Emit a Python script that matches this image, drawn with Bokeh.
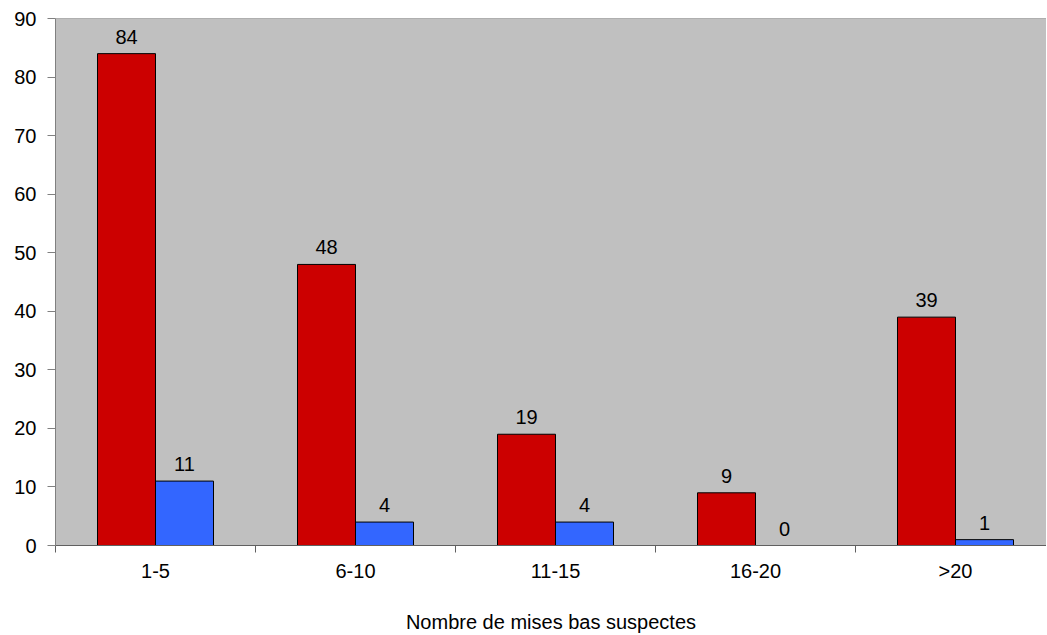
from bokeh.plotting import figure
from bokeh.models import ColumnDataSource, FixedTicker, Range1d, LabelSet, Span
from bokeh.core.properties import value
from bokeh.embed import file_html
from bokeh.resources import INLINE

categories = ["1-5", "6-10", "11-15", "16-20", ">20"]
series_red = [84, 48, 19, 9, 39]
series_blue = [11, 4, 4, 0, 1]
y_ticks = [0, 10, 20, 30, 40, 50, 60, 70, 80, 90]

BAR_W = 0.29
centers = [i + 0.5 for i in range(len(categories))]
src = ColumnDataSource(dict(
    xr=[c - BAR_W / 2 for c in centers],
    xb=[c + BAR_W / 2 for c in centers],
    red=series_red, blue=series_blue,
    red_t=[str(v) for v in series_red], blue_t=[str(v) for v in series_blue],
))

FONT = "Liberation Sans"
# the original plot area runs slightly past the right edge of the picture
p = figure(width=1046, height=635, output_backend="svg", toolbar_location=None,
           x_range=Range1d(0, len(categories) - 0.045), y_range=Range1d(0, 90),
           min_border_left=55, min_border_right=0, min_border_top=18, min_border_bottom=80)
p.background_fill_color = "#C0C0C0"
p.border_fill_color = "white"
p.outline_line_color = None
p.grid.visible = False
p.add_layout(Span(location=90, dimension="width", line_color="#808080", line_width=1))

p.vbar(x="xr", top="red", width=BAR_W, source=src, fill_color="#CC0000", line_color="black", line_width=1)
p.vbar(x="xb", top="blue", width=BAR_W, source=src, fill_color="#3366FF", line_color="black", line_width=1)

for xcol, ycol, tcol in [("xr", "red", "red_t"), ("xb", "blue", "blue_t")]:
    p.add_layout(LabelSet(x=xcol, y=ycol, text=tcol, source=src, text_align="center",
                          text_baseline="bottom", y_offset=10, text_font=value(FONT),
                          text_font_size="20px", text_color="black"))

xa = p.xaxis[0]
xa.ticker = FixedTicker(ticks=centers, minor_ticks=list(range(len(categories) + 1)))
xa.major_label_overrides = {c: lab for c, lab in zip(centers, categories)}
xa.major_tick_line_color = None
xa.minor_tick_line_color = "#606060"
xa.minor_tick_out = 7
xa.minor_tick_in = 0
xa.axis_line_color = "#606060"
xa.major_label_text_font = FONT
xa.major_label_text_font_size = "20px"
xa.major_label_text_color = "black"
xa.major_label_standoff = 7
xa.axis_label = "Nombre de mises bas suspectes"
xa.axis_label_text_font = FONT
xa.axis_label_text_font_size = "20px"
xa.axis_label_text_font_style = "normal"
xa.axis_label_text_color = "black"
xa.axis_label_standoff = 26

ya = p.yaxis[0]
ya.ticker = FixedTicker(ticks=y_ticks, minor_ticks=[])
ya.major_tick_out = 8
ya.major_tick_in = 0
ya.major_tick_line_color = "#808080"
ya.axis_line_color = "#808080"
ya.major_label_text_font = FONT
ya.major_label_text_font_size = "20px"
ya.major_label_text_color = "black"
ya.major_label_standoff = 11

open("out.html", "w").write(file_html(p, INLINE))
